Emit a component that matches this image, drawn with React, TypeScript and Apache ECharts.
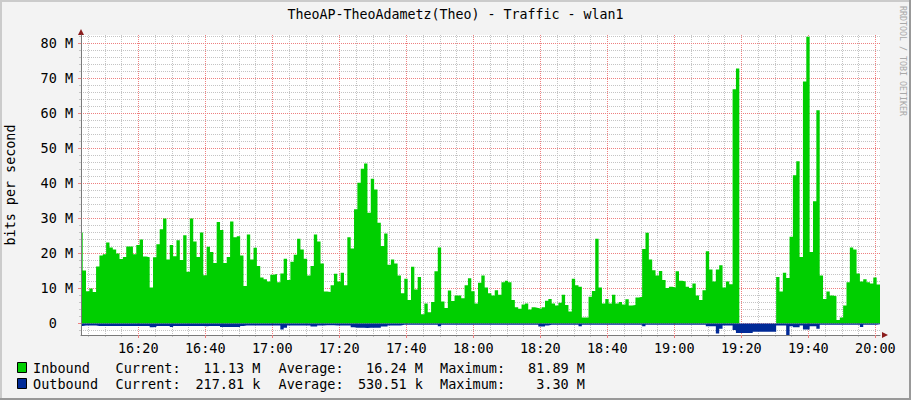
import React, { useEffect, useRef } from "react";
import * as echarts from "echarts";

// ---------------- data ----------------
const TITLE = "TheoAP-TheoAdametz(Theo) - Traffic - wlan1";
const Y_NAME = "bits per second";
const WATERMARK = "RRDTOOL / TOBI OETIKER";

// time in minutes since midnight; one sample per minute
const FIRST_SAMPLE_MIN = 962.4;
const SAMPLE_STEP_MIN = 1;
const X_MIN = 962.9;
const X_MAX = 1201.4;
// values in M (bits per second / 1e6)
const Y_MIN = -3.3;
const Y_MAX = 82.4;

const X_TICK_LABELS = ["16:20", "16:40", "17:00", "17:20", "17:40", "18:00", "18:20", "18:40", "19:00", "19:20", "19:40", "20:00"];
const Y_TICK_LABELS = ["0", "10 M", "20 M", "30 M", "40 M", "50 M", "60 M", "70 M", "80 M"];

const INBOUND_M = [
  26, 15.1, 9.2, 10, 9, 16.3, 19.4, 19.8, 23.1, 21.7,
  21.1, 20, 18.4, 19, 22, 22, 19.8, 22.4, 24, 19.1,
  18.9, 10.3, 18.9, 22.6, 26.9, 30, 18.3, 22.4, 19.2, 23.8,
  18.1, 25.2, 14.8, 30, 23.4, 19, 26, 13.8, 21.9, 20.4,
  17.3, 29, 26.7, 17.3, 19, 29.1, 24.6, 24.9,
  19.4, 10.7, 25.4, 18.3, 21.6, 16.4, 13.1, 12.6, 12, 13.9,
  14.1, 11.8, 14.3, 18.5, 12.4, 17.6, 19.6, 24.2, 21.1, 18.5,
  13.7, 16.4, 25.4, 23.4, 17.1, 9.1, 9, 10.9, 14.2, 12,
  14.5, 10.9, 24.6, 21.4, 32.6, 40.2, 44.2, 45.7, 31.6, 41.3,
  38.3, 28.8, 22.1, 25.7, 16.8, 18.3, 17.1, 13.7,
  8.6, 12.8, 6.7, 16.2, 9.7, 13.3, 2.6, 5.7, 3.2, 6.1,
  14.9, 21.7, 6.3, 4.4, 9.4, 6.4, 8, 8, 7.2, 10.9,
  12.9, 9.2, 5.7, 11.6, 13.7, 10.3, 8.6, 8, 9.5, 8.2,
  11.8, 12.2, 11.8, 6.7, 4.6, 4.2, 5.4, 5.7, 4, 4.6,
  4.4, 4.2, 4.6, 6.5, 7, 5.7, 5.1, 5.9,
  8.2, 5.3, 3.4, 12.8, 10.9, 10.5, 1.7, 1.7, 7.6, 9.3,
  24.2, 10.3, 5.7, 7, 5.7, 8.2, 5.7, 6.1, 5.4, 6.9,
  5.1, 5.3, 7.4, 7.6, 21.3, 25.9, 18.3, 15.2, 13.7, 15,
  12.4, 10.1, 10.5, 10.3, 14.9, 12.2, 12, 10.5, 10.1, 11.4,
  8, 6.7, 9.5, 20.6, 15.4, 12, 15.4, 16.6,
  10.3, 12, 11.2, 66.9, 72.8, 0, 0, 0, 0, 0,
  0, 0, 0, 0, 0, 0, 13.3, 9.1, 14.5, 13,
  24.8, 42.3, 46.3, 19, 69.1, 81.9, 20.4, 34.9, 60.9, 13.7,
  7, 9.1, 8, 7.8, 1, 1.7, 5.1, 11.8, 21.7, 21.1,
  14.3, 12, 12.6, 11.8, 11.4, 13.1, 11.1,
];

const OUTBOUND_M = [
  0.7, 0.6, 0.6, 0.6, 0.6, 0.7, 0.7, 0.7, 0.7, 0.7,
  0.7, 0.7, 0.7, 0.7, 0.7, 0.7, 0.7, 0.7, 0.7, 0.7,
  0.7, 1.1, 1.0, 0.7, 0.7, 0.7, 0.7, 1.0, 0.7, 0.7,
  0.7, 0.7, 0.7, 0.7, 0.7, 0.7, 0.7, 0.8, 0.7, 0.7,
  0.7, 0.7, 1.0, 1.0, 1.0, 1.0, 1.0, 1.0,
  0.7, 0.6, 0.6, 0.6, 0.6, 0.6, 0.6, 0.6, 0.6, 0.6,
  0.6, 0.6, 1.7, 1.2, 0.6, 0.6, 0.6, 0.6, 0.6, 0.6,
  0.6, 0.9, 0.9, 0.6, 0.6, 0.5, 0.5, 0.5, 0.6, 0.6,
  0.6, 0.6, 0.6, 1.1, 1.2, 1.2, 1.2, 1.3, 1.2, 1.2,
  1.2, 1.2, 0.9, 0.9, 0.6, 0.6, 0.6, 0.6,
  0.4, 0.4, 0.4, 0.4, 0.4, 0.4, 0.4, 0.4, 0.4, 0.4,
  0.4, 0.8, 0.4, 0.4, 0.4, 0.4, 0.4, 0.4, 0.4, 0.4,
  0.4, 0.4, 0.4, 0.4, 0.4, 0.4, 0.4, 0.4, 0.4, 0.4,
  0.4, 0.4, 0.4, 0.4, 0.4, 0.4, 0.4, 0.4, 0.4, 0.4,
  0.4, 0.9, 0.9, 0.6, 0.4, 0.4, 0.4, 0.4,
  0.4, 0.4, 0.4, 0.4, 0.4, 0.8, 0.4, 0.4, 0.4, 0.4,
  0.4, 0.4, 0.4, 0.4, 0.4, 0.4, 0.4, 0.4, 0.4, 0.4,
  0.4, 0.4, 0.4, 0.4, 0.8, 0.4, 0.4, 0.4, 0.4, 0.4,
  0.4, 0.4, 0.4, 0.4, 0.4, 0.4, 0.4, 0.4, 0.4, 0.4,
  0.4, 0.4, 0.4, 0.8, 0.8, 0.8, 2.9, 1.5,
  0.6, 0.6, 0.6, 1.9, 2.7, 2.7, 2.7, 2.7, 2.7, 2.4,
  2.4, 2.4, 2.4, 2.4, 2.4, 2.4, 0.6, 0.6, 0.6, 3.3,
  0.8, 1.1, 1.1, 0.6, 1.7, 1.7, 0.8, 0.8, 1.5, 0.4,
  0.4, 0.4, 0.4, 0.4, 0.4, 0.4, 0.4, 0.4, 0.4, 0.4,
  0.4, 1.0, 0.4, 0.4, 0.4, 0.4, 0.22,
];

const LEGEND_NAMES = ["Inbound", "Outbound"];
const LEGEND_CURRENT = ["11.13 M", "217.81 k"];
const LEGEND_AVERAGE = ["16.24 M", "530.51 k"];
const LEGEND_MAXIMUM = ["81.89 M", "3.30 M"];

// ---------------- styles ----------------
const GREEN = "#00CF00";
const BLUE = "#002A97";
const MAJOR = "#EE8080";
const MINOR = "#C4C4C4";
const AXIS = "#7A7A7A";
const ARROW = "#8B1C1C";
const FONT = '"DejaVu Sans Mono", monospace';
const FS = 13.5;
const CHAR_W = FS * 0.602;

const parseHM = (s: string) => {
  const [h, m] = s.split(":").map(Number);
  return h * 60 + m;
};
const X_TICK_VALUES = X_TICK_LABELS.map(parseHM);
const Y_TICK_VALUES = Y_TICK_LABELS.map((s) => parseFloat(s));
const X_MINOR: number[] = [];
for (let t = 965; t < X_MAX; t += 5) if (t % 20 !== 0) X_MINOR.push(t);
const Y_MINOR: number[] = [];
for (let v = -2; v <= 82; v += 2) if (v % 10 !== 0) Y_MINOR.push(v);

const toSteps = (vals: number[], sign: number) => {
  const pts = vals.map((v, i) => [FIRST_SAMPLE_MIN + i * SAMPLE_STEP_MIN, sign * v]);
  pts.push([FIRST_SAMPLE_MIN + vals.length * SAMPLE_STEP_MIN, sign * vals[vals.length - 1]]);
  return pts;
};

function buildOption(): any {
  const legendY = [368, 384];
  const legendColors = [GREEN, BLUE];
  const txt = (text: string, x: number, y: number, align: string) => ({
    type: "text",
    x,
    y,
    silent: true,
    style: {
      text,
      fill: "#000",
      font: `${FS}px ${FONT}`,
      align,
      textAlign: align,
      verticalAlign: "middle",
      textVerticalAlign: "middle",
    },
  });
  const legendEls: any[] = [];
  LEGEND_NAMES.forEach((name, i) => {
    const y = legendY[i];
    legendEls.push({
      type: "rect",
      silent: true,
      shape: { x: 17.5, y: y - 5.5, width: 9, height: 10 },
      style: { fill: legendColors[i], stroke: "#000", lineWidth: 1 },
    });
    legendEls.push(txt(name, 33, y, "left"));
    legendEls.push(txt("Current:", 115.5, y, "left"));
    legendEls.push(txt(LEGEND_CURRENT[i], 260.5, y, "right"));
    legendEls.push(txt("Average:", 278.5, y, "left"));
    legendEls.push(txt(LEGEND_AVERAGE[i], 423, y, "right"));
    legendEls.push(txt("Maximum:", 440, y, "left"));
    legendEls.push(txt(LEGEND_MAXIMUM[i], 585, y, "right"));
  });

  const xLabel = (v: number) => {
    const i = X_TICK_VALUES.findIndex((t) => Math.abs(t - v) < 1e-6);
    return i >= 0 ? X_TICK_LABELS[i] : "";
  };
  const yLabel = (v: number) => {
    const i = Y_TICK_VALUES.findIndex((t) => Math.abs(t - v) < 1e-6);
    if (i < 0) return "";
    const s = Y_TICK_LABELS[i];
    const parts = s.split(" ");
    // number column and unit column (unit column stays empty for 0)
    return `{num|${parts[0]}}{unit|${parts[1] ? " " + parts[1] : " "}}`;
  };

  const richBase = { fontFamily: FONT, fontSize: FS, color: "#000" };

  return {
    animation: false,
    backgroundColor: "#F3F3F3",
    title: {
      text: TITLE,
      left: "center",
      top: 3,
      textStyle: { fontFamily: FONT, fontSize: 13.3, fontWeight: "normal", color: "#000" },
    },
    grid: {
      left: 81,
      top: 35,
      width: 799,
      height: 300,
      show: true,
      backgroundColor: "#FFFFFF",
      borderWidth: 0,
      containLabel: false,
      outerBoundsMode: "none",
    },
    xAxis: [
      {
        type: "value",
        min: X_MIN,
        max: X_MAX,
        position: "bottom",
        z: 3,
        axisLine: { show: true, onZero: false, lineStyle: { color: AXIS, width: 1 } },
        axisTick: { show: true, customValues: X_TICK_VALUES, length: 3, lineStyle: { color: MAJOR } },
        axisLabel: {
          show: true,
          customValues: X_TICK_VALUES,
          formatter: xLabel,
          fontFamily: FONT,
          fontSize: FS,
          color: "#000",
          margin: 6,
        },
        splitLine: { show: true, lineStyle: { color: MAJOR, width: 1, type: [1, 1] } },
      },
      {
        type: "value",
        min: X_MIN,
        max: X_MAX,
        position: "bottom",
        axisLine: { show: false, onZero: false },
        axisTick: { show: true, customValues: X_MINOR, length: 2, lineStyle: { color: MINOR } },
        axisLabel: { show: false },
        splitLine: { show: true, lineStyle: { color: MINOR, width: 1, type: [1, 1] } },
      },
    ],
    yAxis: [
      {
        type: "value",
        min: Y_MIN,
        max: Y_MAX,
        position: "left",
        z: 3,
        name: Y_NAME,
        nameLocation: "middle",
        nameRotate: 90,
        nameGap: 64,
        nameTextStyle: { fontFamily: FONT, fontSize: 13.4, color: "#000" },
        axisLine: { show: true, onZero: false, lineStyle: { color: AXIS, width: 1 } },
        axisTick: { show: true, customValues: Y_TICK_VALUES, length: 3, lineStyle: { color: MAJOR } },
        axisLabel: {
          show: true,
          customValues: Y_TICK_VALUES,
          formatter: yLabel,
          fontFamily: FONT,
          fontSize: FS,
          color: "#000",
          margin: 8,
          rich: {
            num: { ...richBase },
            unit: { ...richBase, width: 2 * CHAR_W, align: "left" },
          },
        },
        splitLine: { show: true, lineStyle: { color: MAJOR, width: 1, type: [1, 1] } },
      },
      {
        type: "value",
        min: Y_MIN,
        max: Y_MAX,
        position: "left",
        axisLine: { show: false, onZero: false },
        axisTick: { show: true, customValues: Y_MINOR, length: 2, lineStyle: { color: MINOR } },
        axisLabel: { show: false },
        splitLine: { show: true, lineStyle: { color: MINOR, width: 1, type: [1, 1] } },
      },
    ],
    series: [
      {
        name: "Inbound",
        type: "line",
        xAxisIndex: 0,
        yAxisIndex: 0,
        step: "end",
        symbol: "none",
        silent: true,
        clip: true,
        lineStyle: { width: 0, color: GREEN },
        areaStyle: { color: GREEN, opacity: 1 },
        data: toSteps(INBOUND_M, 1),
      },
      {
        name: "Outbound",
        type: "line",
        xAxisIndex: 0,
        yAxisIndex: 0,
        step: "end",
        symbol: "none",
        silent: true,
        clip: true,
        lineStyle: { width: 0, color: BLUE },
        areaStyle: { color: BLUE, opacity: 1 },
        data: toSteps(OUTBOUND_M, -1),
      },
    ],
    graphic: [
      // frame shading
      { type: "line", silent: true, shape: { x1: 0, y1: 1, x2: 911, y2: 1 }, style: { stroke: "#CBCBCB", lineWidth: 2 } },
      { type: "line", silent: true, shape: { x1: 1, y1: 0, x2: 1, y2: 400 }, style: { stroke: "#CBCBCB", lineWidth: 2 } },
      { type: "line", silent: true, shape: { x1: 0, y1: 399, x2: 911, y2: 399 }, style: { stroke: "#999999", lineWidth: 2 } },
      { type: "line", silent: true, shape: { x1: 910, y1: 0, x2: 910, y2: 400 }, style: { stroke: "#999999", lineWidth: 2 } },
      // axis arrows
      { type: "polygon", silent: true, shape: { points: [[78, 35], [84, 35], [81, 29]] }, style: { fill: ARROW } },
      { type: "polygon", silent: true, shape: { points: [[882, 332], [882, 338], [888, 335]] }, style: { fill: ARROW } },
      // watermark
      {
        type: "text",
        x: 903,
        y: 61,
        rotation: -Math.PI / 2,
        silent: true,
        style: {
          text: WATERMARK,
          fill: "#A8A8A8",
          font: `8.3px ${FONT}`,
          align: "center",
          textAlign: "center",
          verticalAlign: "middle",
          textVerticalAlign: "middle",
        },
      },
      ...legendEls,
    ],
  };
}

export default function App() {
  const ref = useRef<HTMLDivElement>(null);
  useEffect(() => {
    if (!ref.current) return;
    const chart = echarts.init(ref.current, undefined, { renderer: "svg" });
    chart.setOption(buildOption());
    return () => chart.dispose();
  }, []);
  return (
    <div
      ref={ref}
      style={{ position: "absolute", left: 0, top: 0, width: 911, height: 400 }}
    />
  );
}
